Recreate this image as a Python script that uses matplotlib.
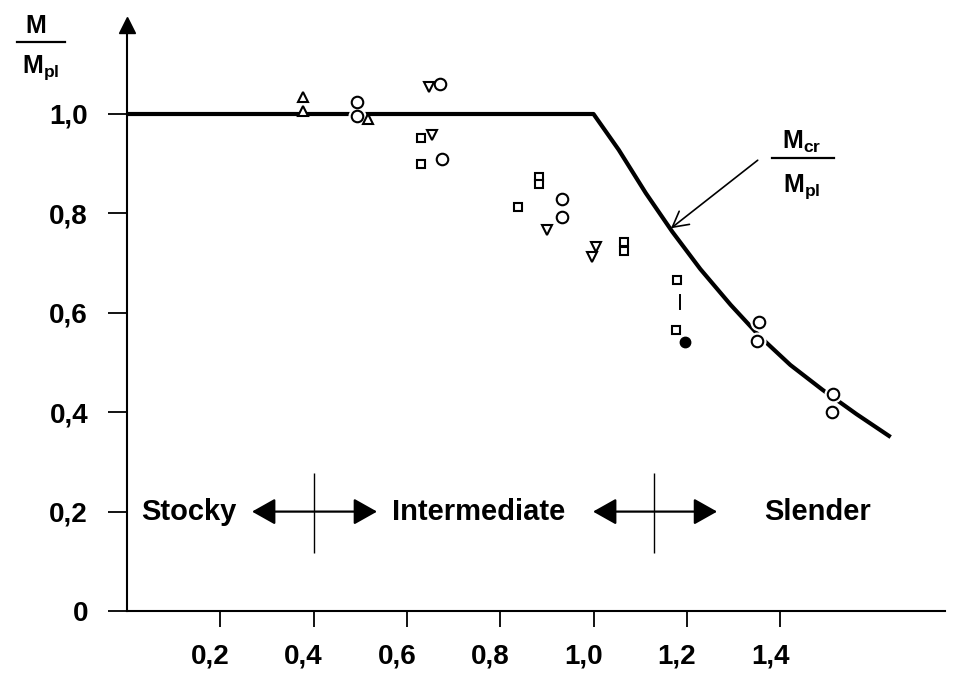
import matplotlib
matplotlib.use("Agg")
import matplotlib.pyplot as plt
from matplotlib.transforms import ScaledTranslation
from matplotlib.lines import Line2D

plt.rcParams['font.family'] = ['Liberation Sans', 'DejaVu Sans']
plt.rcParams['font.weight'] = 'bold'
plt.rcParams['mathtext.fontset'] = 'custom'
plt.rcParams['mathtext.rm'] = 'Liberation Sans:bold'
plt.rcParams['mathtext.bf'] = 'Liberation Sans:bold'
plt.rcParams['mathtext.it'] = 'Liberation Sans:bold'

# ---------------- data ----------------
curve_x = [0.0, 1.0, 1.054, 1.112, 1.169, 1.229, 1.294, 1.358, 1.422, 1.491, 1.564, 1.637]
curve_y = [1.0, 1.0, 0.928, 0.841, 0.763, 0.688, 0.616, 0.551, 0.495, 0.445, 0.396, 0.350]

circle_x = [0.493, 0.493, 0.672, 0.675, 0.933, 0.933, 1.354, 1.351, 1.514, 1.512]
circle_y = [1.024, 0.995, 1.060, 0.909, 0.828, 0.793, 0.581, 0.543, 0.437, 0.401]

square_x = [0.631, 0.631, 0.839, 0.883, 0.883, 1.066, 1.066, 1.179, 1.176]
square_y = [0.952, 0.899, 0.812, 0.874, 0.859, 0.743, 0.724, 0.667, 0.565]

tri_up_x = [0.378, 0.378, 0.517]
tri_up_y = [1.034, 1.006, 0.989]

tri_down_x = [0.647, 0.653, 0.901, 1.006, 0.996]
tri_down_y = [1.054, 0.958, 0.767, 0.733, 0.713]

filled_x = [1.197]
filled_y = [0.542]

range_x = [1.185, 1.185]
range_y = [0.636, 0.608]

xticks = [0.2, 0.4, 0.6, 0.8, 1.0, 1.2, 1.4]
xtick_labels = ['0,2', '0,4', '0,6', '0,8', '1,0', '1,2', '1,4']
yticks = [0.0, 0.2, 0.4, 0.6, 0.8, 1.0]
ytick_labels = ['0', '0,2', '0,4', '0,6', '0,8', '1,0']

boundaries = [0.4, 1.13]
region_names = ['Stocky', 'Intermediate', 'Slender']
region_x = [0.235, 0.569, 1.365]
region_y = 0.2
arrow_spans = [(0.268, 0.536), (0.999, 1.265)]

# ---------------- figure ----------------
W, H = 958, 674
fig = plt.figure(figsize=(W / 100, H / 100), dpi=100)
ax_left, ax_bottom, ax_w, ax_h = 127, 63, 818, 586
ax = fig.add_axes([ax_left / W, ax_bottom / H, ax_w / W, ax_h / H])
ax.set_xlim(0, ax_w / 466.5)
ax.set_ylim(0, ax_h / 497.0)

for s in ['top', 'right']:
    ax.spines[s].set_visible(False)
for s in ['left', 'bottom']:
    ax.spines[s].set_linewidth(1.5)

# axis arrow head on y axis
ax.plot([0], [ax_h / 497.0], marker='^', ms=11.5, color='black', clip_on=False, zorder=5)

ax.set_xticks(xticks)
ax.set_xticklabels(xtick_labels, fontsize=20, fontweight='bold')
ax.set_yticks(yticks)
ax.set_yticklabels(ytick_labels, fontsize=20, fontweight='bold')
ax.tick_params(axis='x', direction='out', length=11.5, width=1.3, pad=12)
ax.tick_params(axis='y', direction='out', length=14, width=1.3, pad=14)
off = ScaledTranslation(-0.10, 0, fig.dpi_scale_trans)
for lbl in ax.get_xticklabels():
    lbl.set_transform(lbl.get_transform() + off)

# curve
ax.plot(curve_x, curve_y, color='black', lw=3.0, solid_capstyle='butt',
        solid_joinstyle='round', zorder=2, clip_on=False)

# white halos for circles (gaps in the curve)
ax.plot(circle_x, circle_y, ls='none', marker='o', ms=12, mfc='white', mec='white', zorder=3)

# markers
ax.plot(circle_x, circle_y, ls='none', marker='o', ms=8.3, mfc='white', mec='black', mew=1.5, zorder=4)
ax.plot(square_x, square_y, ls='none', marker='s', ms=5.5, mfc='white', mec='black', mew=1.5, zorder=4)
ax.plot(tri_up_x, tri_up_y, ls='none', marker='^', ms=6.5, mfc='white', mec='black', mew=1.5, zorder=4)
ax.plot(tri_down_x, tri_down_y, ls='none', marker='v', ms=6.5, mfc='white', mec='black', mew=1.5, zorder=4)
ax.plot(filled_x, filled_y, ls='none', marker='o', ms=7.5, mfc='black', mec='black', zorder=4)
ax.plot(range_x, range_y, color='black', lw=1.4, zorder=4)

# region boundaries and arrows
ax.vlines(boundaries, 0.117, 0.278, color='black', lw=1.0)
for (a, b) in arrow_spans:
    ax.annotate('', xy=(b, region_y), xytext=(a, region_y),
                arrowprops=dict(arrowstyle='<|-|>,head_length=0.8,head_width=0.45',
                                mutation_scale=18, color='black', lw=1.6,
                                shrinkA=0, shrinkB=0))
ax.text(region_x[0], region_y, region_names[0], ha='right', va='center', fontsize=21, fontweight='bold')
ax.text(region_x[1], region_y, region_names[1], ha='left', va='center', fontsize=21, fontweight='bold')
ax.text(region_x[2], region_y, region_names[2], ha='left', va='center', fontsize=21, fontweight='bold')

# Mcr / Mpl annotation
ax.annotate('', xy=(1.166, 0.770), xytext=(1.352, 0.907),
            arrowprops=dict(arrowstyle='->,head_length=0.55,head_width=0.3',
                            mutation_scale=20, color='black', lw=1.2,
                            shrinkA=0, shrinkB=0))

def px(x, y):
    return (x / W, 1 - y / H)

fig.text(*px(802, 149), r'$\mathrm{M}_{\mathrm{cr}}$', ha='center', va='baseline', fontsize=18)
fig.add_artist(Line2D([772 / W, 834 / W], [1 - 158 / H, 1 - 158 / H], color='black', lw=1.6))
fig.text(*px(802, 192), r'$\mathrm{M}_{\mathrm{pl}}$', ha='center', va='baseline', fontsize=18)

# y label fraction
fig.text(*px(36, 33), 'M', ha='center', va='baseline', fontsize=18, fontweight='bold')
fig.add_artist(Line2D([17 / W, 65 / W], [1 - 42 / H, 1 - 42 / H], color='black', lw=1.6))
fig.text(*px(41, 73), r'$\mathrm{M}_{\mathrm{pl}}$', ha='center', va='baseline', fontsize=18)

fig.savefig('out.png', dpi=100)
